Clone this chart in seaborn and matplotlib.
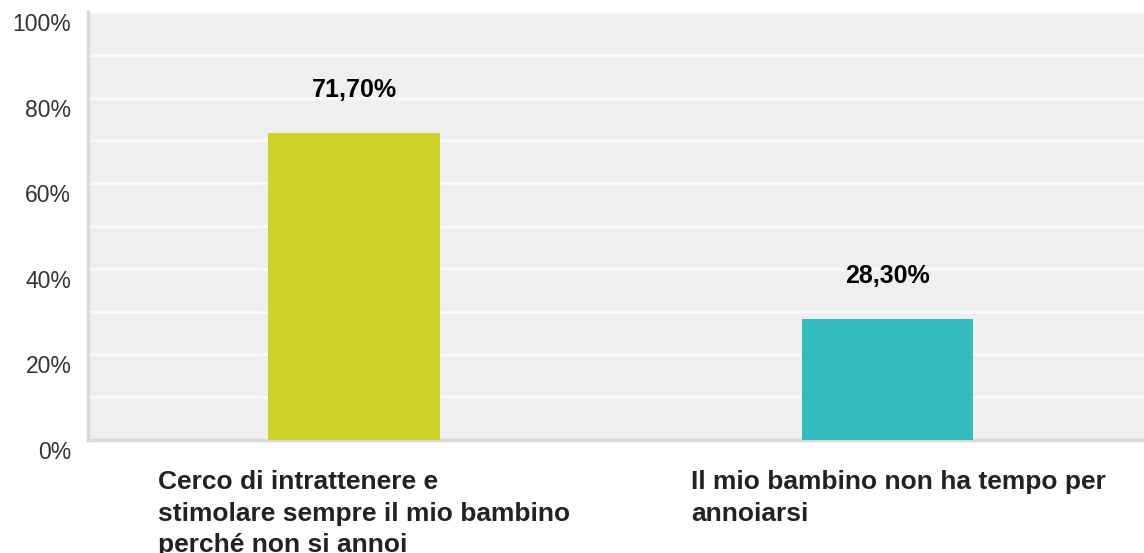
import matplotlib
matplotlib.use("Agg")
import matplotlib.pyplot as plt
import matplotlib.transforms as mtransforms
import seaborn as sns
import pandas as pd
import numpy as np

categories = ["Cerco di intrattenere e\nstimolare sempre il mio bambino\nperché non si annoi",
              "Il mio bambino non ha tempo per\nannoiarsi"]
values = [71.70, 28.30]
value_labels = ["71,70%", "28,30%"]
colors = ["#cdd427", "#33bcbe"]
yticks = [0, 20, 40, 60, 80, 100]
ytick_labels = ["0%", "20%", "40%", "60%", "80%", "100%"]

sns.set_theme(style="white")
plt.rcParams['font.family'] = ['Liberation Sans', 'DejaVu Sans']

df = pd.DataFrame({"cat": categories, "val": values})

fig = plt.figure(figsize=(11.44, 5.53), dpi=100)
ax = fig.add_axes([88/1144, 1 - 440/553, (1144 - 88)/1144, (440 - 12)/553])
ax.set_facecolor("#efefef")

sns.barplot(data=df, x="cat", y="val", hue="cat", palette=colors, legend=False,
            width=0.322, ax=ax, zorder=3, saturation=1, linewidth=0)

ax.set_xlim(-0.499, 1.481)
ax.set_ylim(0, 100)

# grid every 10%
ax.set_yticks(np.arange(0, 101, 10), minor=True)
ax.grid(axis="y", which="both", color="#f9f9f9", linewidth=2.2, zorder=0)
ax.set_axisbelow(True)

ax.set_yticks(yticks)
ax.set_yticklabels(ytick_labels, fontsize=16.5, color="#333333")
ax.tick_params(axis="y", which="both", length=0, pad=12)
offset = mtransforms.ScaledTranslation(0, -10/100, fig.dpi_scale_trans)
for lbl in ax.get_yticklabels():
    lbl.set_transform(lbl.get_transform() + offset)

ax.set_xticks([])
ax.set_xlabel("")
ax.set_ylabel("")

for i, (v, t) in enumerate(zip(values, value_labels)):
    ax.annotate(t, xy=(i, v), xytext=(0, 43), textcoords="offset pixels",
                ha="center", va="center", fontsize=18, fontweight="bold", color="#000000")

for i, c in enumerate(categories):
    ax.text(i - 0.368, -0.07, c, transform=ax.get_xaxis_transform(),
            ha="left", va="top", fontsize=19, fontweight="bold", color="#222222",
            linespacing=1.4)

for s in ["top", "right"]:
    ax.spines[s].set_visible(False)
ax.spines["left"].set_color("#d9d9d9")
ax.spines["left"].set_linewidth(2.5)
ax.spines["bottom"].set_color("#d9d9d9")
ax.spines["bottom"].set_linewidth(2.5)

fig.savefig("out.png", dpi=100, facecolor="white")
